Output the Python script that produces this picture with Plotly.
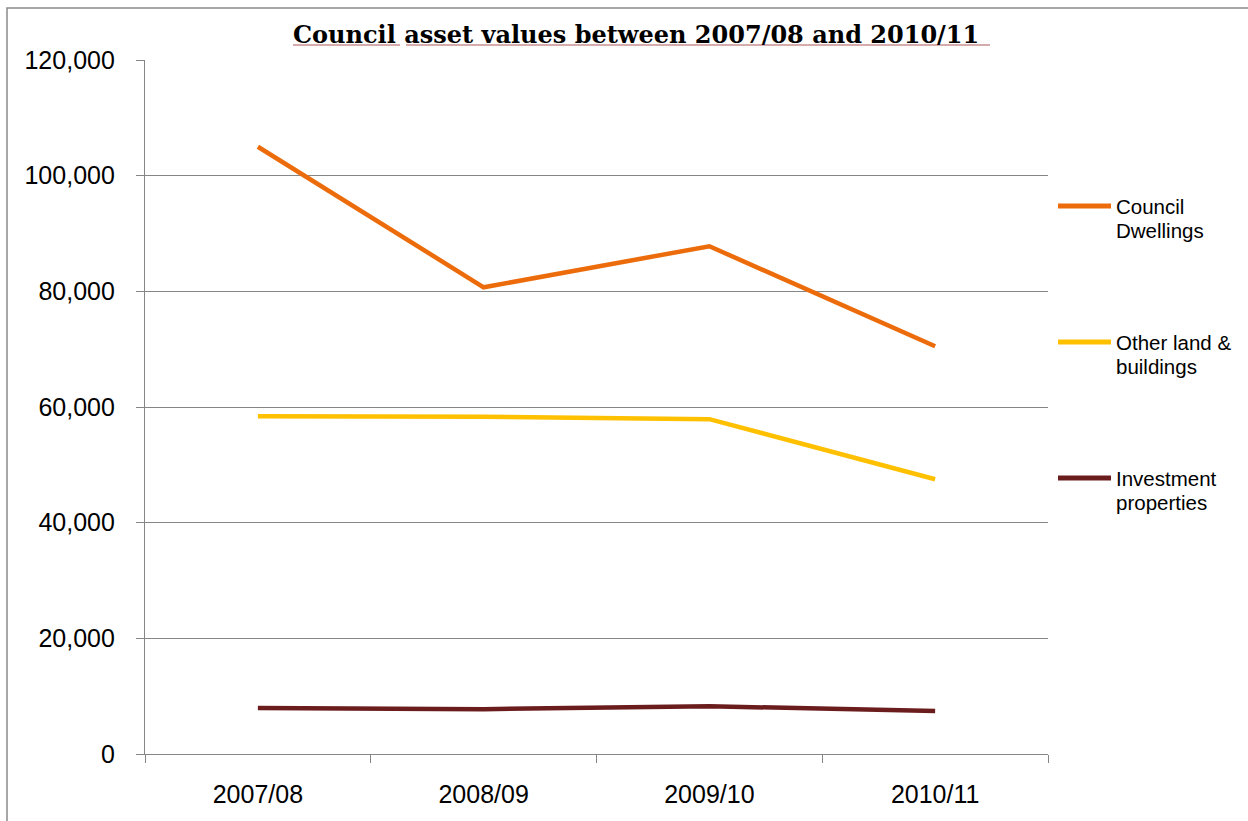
import plotly.graph_objects as go

# ---- data ----
years = ["2007/08", "2008/09", "2009/10", "2010/11"]
council_dwellings = [105000, 80700, 87800, 70500]
other_land_buildings = [58400, 58300, 57900, 47500]
investment_properties = [7950, 7750, 8250, 7450]

series_names = [["Council", "Dwellings"], ["Other land &", "buildings"], ["Investment", "properties"]]
series_values = [council_dwellings, other_land_buildings, investment_properties]
colors = ["#EC6C0C", "#FFC000", "#6B1D1D"]
title_text = "Council asset values between 2007/08 and 2010/11"

# ---- layout geometry (pixels) ----
W, H = 1248, 821
L, R, T, B = 145, 1048, 60, 754
PW, PH = R - L, B - T

def px_x(x):
    return (x - L) / PW

def px_y(y):
    return (B - y) / PH

GRID = "#868686"
FONT = "Liberation Sans, Arial, sans-serif"

fig = go.Figure()
for name, vals, col in zip(series_names, series_values, colors):
    fig.add_trace(go.Scatter(
        x=years, y=vals, mode="lines", name=" ".join(name),
        line=dict(color=col, width=4.5), showlegend=False,
    ))

shapes = []
annotations = []

# outer chart border
shapes.append(dict(type="rect", xref="paper", yref="paper",
                   x0=px_x(7), x1=px_x(1260), y0=px_y(835), y1=px_y(8),
                   line=dict(color="#8a8a8a", width=1.5), fillcolor="rgba(0,0,0,0)", layer="below"))

# manual legend
legend_y = [206, 342, 478]
for (l1, l2), col, ly in zip(series_names, colors, legend_y):
    shapes.append(dict(type="line", xref="paper", yref="paper",
                       x0=px_x(1058), x1=px_x(1111), y0=px_y(ly), y1=px_y(ly),
                       line=dict(color=col, width=5)))
    annotations.append(dict(xref="paper", yref="paper", x=px_x(1114), y=px_y(ly),
                            xanchor="left", yanchor="middle", text=l1, showarrow=False,
                            font=dict(family=FONT, size=20.5, color="black")))
    annotations.append(dict(xref="paper", yref="paper", x=px_x(1114), y=px_y(ly + 24.5),
                            xanchor="left", yanchor="middle", text=l2, showarrow=False,
                            font=dict(family=FONT, size=20.5, color="black")))

# title
annotations.append(dict(xref="paper", yref="paper", x=px_x(636), y=px_y(34),
                        xanchor="center", yanchor="middle",
                        text="<b>" + title_text + "</b>", showarrow=False,
                        font=dict(family="DejaVu Serif, Georgia, serif", size=24, color="black")))
# title underline (split after the first word)
for ux0, ux1 in [(293, 400), (406, 990)]:
    shapes.append(dict(type="line", xref="paper", yref="paper",
                       x0=px_x(ux0), x1=px_x(ux1), y0=px_y(45), y1=px_y(45),
                       line=dict(color="#c98f8f", width=1.3)))

fig.update_layout(
    width=W, height=H,
    margin=dict(l=L, r=W - R, t=T, b=H - B, pad=0),
    paper_bgcolor="white", plot_bgcolor="white",
    showlegend=False,
    shapes=shapes, annotations=annotations,
    xaxis=dict(
        type="category", range=[-0.5, 3.5], tickson="boundaries",
        showgrid=False, showline=True, linecolor=GRID, linewidth=1.3,
        ticks="outside", ticklen=8, tickcolor=GRID, tickwidth=1.3,
        tickfont=dict(family=FONT, size=25, color="black"),
        ticklabelstandoff=18, zeroline=False,
    ),
    yaxis=dict(
        range=[0, 120000], dtick=20000, tickformat=",",
        showgrid=True, gridcolor=GRID, gridwidth=1.3,
        showline=True, linecolor=GRID, linewidth=1.3,
        ticks="outside", ticklen=8, tickcolor=GRID, tickwidth=1.3,
        tickfont=dict(family=FONT, size=25, color="black"),
        ticklabelstandoff=16, zeroline=False,
    ),
)

fig.write_html("out.html")
